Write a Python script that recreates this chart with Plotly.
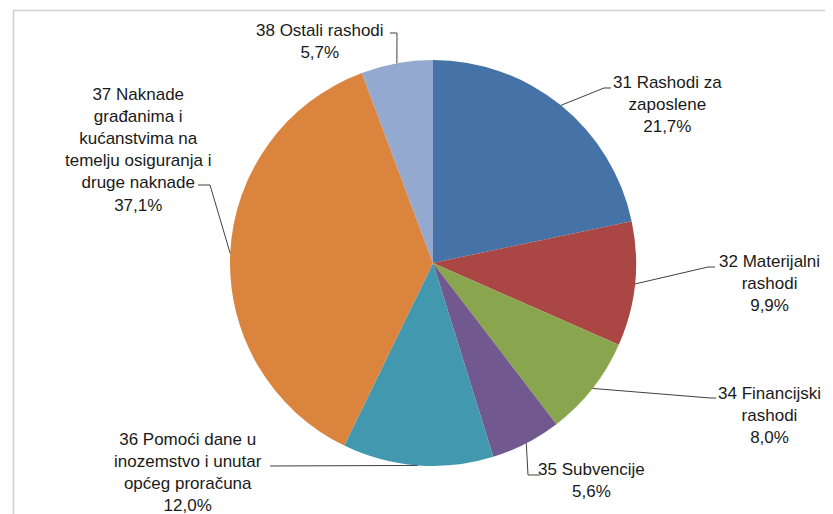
import math
import plotly.graph_objects as go

# ---- data ----
categories = [
    "31 Rashodi za<br>zaposlene",
    "32 Materijalni<br>rashodi",
    "34 Financijski<br>rashodi",
    "35 Subvencije",
    "36 Pomoći dane u<br>inozemstvo i unutar<br>općeg proračuna",
    "37 Naknade<br>građanima i<br>kućanstvima na<br>temelju osiguranja i<br>druge naknade",
    "38 Ostali rashodi",
]
values = [21.7, 9.9, 8.0, 5.6, 12.0, 37.1, 5.7]
pct_labels = ["21,7%", "9,9%", "8,0%", "5,6%", "12,0%", "37,1%", "5,7%"]
colors = ["#4572A7", "#AA4643", "#89A54E", "#71588F", "#4198AF", "#DB843D", "#93A9CF"]

# ---- layout constants (window pixels) ----
W, H = 833, 514
OFF = 8  # page body margin
CX, CY, R = 433, 263, 203
label_pos = [(667, 104), (769, 283), (769, 415), (591, 480), (188, 472), (138, 150), (320, 41)]
elbows = [
    [(604, 88), (611, 88)],
    [(708, 267), (715, 267)],
    [(710, 398), (716, 398)],
    [(528, 475), (540, 475)],
    [(270, 466)],
    [(210, 185), (198, 185)],
    [(397, 33), (390, 33)],
]

def px(x):
    return (x - OFF) / W

def py(y):
    return 1 - (y - OFF) / H

fig = go.Figure(go.Pie(
    values=values,
    labels=[c.replace("<br>", " ") for c in categories],
    marker=dict(colors=colors, line=dict(width=0)),
    sort=False,
    direction="clockwise",
    rotation=0,
    textinfo="none",
    hoverinfo="label+percent",
    domain=dict(x=[px(CX - R), px(CX + R)], y=[py(CY + R), py(CY - R)]),
    showlegend=False,
))

total = sum(values)
cum = 0.0
shapes = []
annotations = []
for i, v in enumerate(values):
    mid = (cum + v / 2) / total * 2 * math.pi
    cum += v
    ex = CX + R * math.sin(mid)
    ey = CY - R * math.cos(mid)
    pts = [(ex, ey)] + elbows[i]
    path = "M " + " L ".join(f"{px(a):.5f},{py(b):.5f}" for a, b in pts)
    shapes.append(dict(type="path", xref="paper", yref="paper", path=path,
                       line=dict(color="#404040", width=1)))
    lx, ly = label_pos[i]
    annotations.append(dict(
        x=px(lx), y=py(ly), xref="paper", yref="paper",
        text=categories[i] + "<br>" + pct_labels[i],
        showarrow=False, xanchor="center", yanchor="middle", align="center",
        font=dict(family="Liberation Sans, Arial, sans-serif", size=17, color="#1a1a1a"),
    ))

# chart frame
shapes.append(dict(type="path", xref="paper", yref="paper",
                   path=f"M {px(13.5)},{py(600)} L {px(13.5)},{py(10.5)} L {px(900)},{py(10.5)}",
                   line=dict(color="#d0d0d0", width=1.5)))

fig.update_layout(
    width=W, height=H,
    margin=dict(l=0, r=0, t=0, b=0),
    paper_bgcolor="white",
    plot_bgcolor="white",
    shapes=shapes,
    annotations=annotations,
)

fig.write_html("out.html")
